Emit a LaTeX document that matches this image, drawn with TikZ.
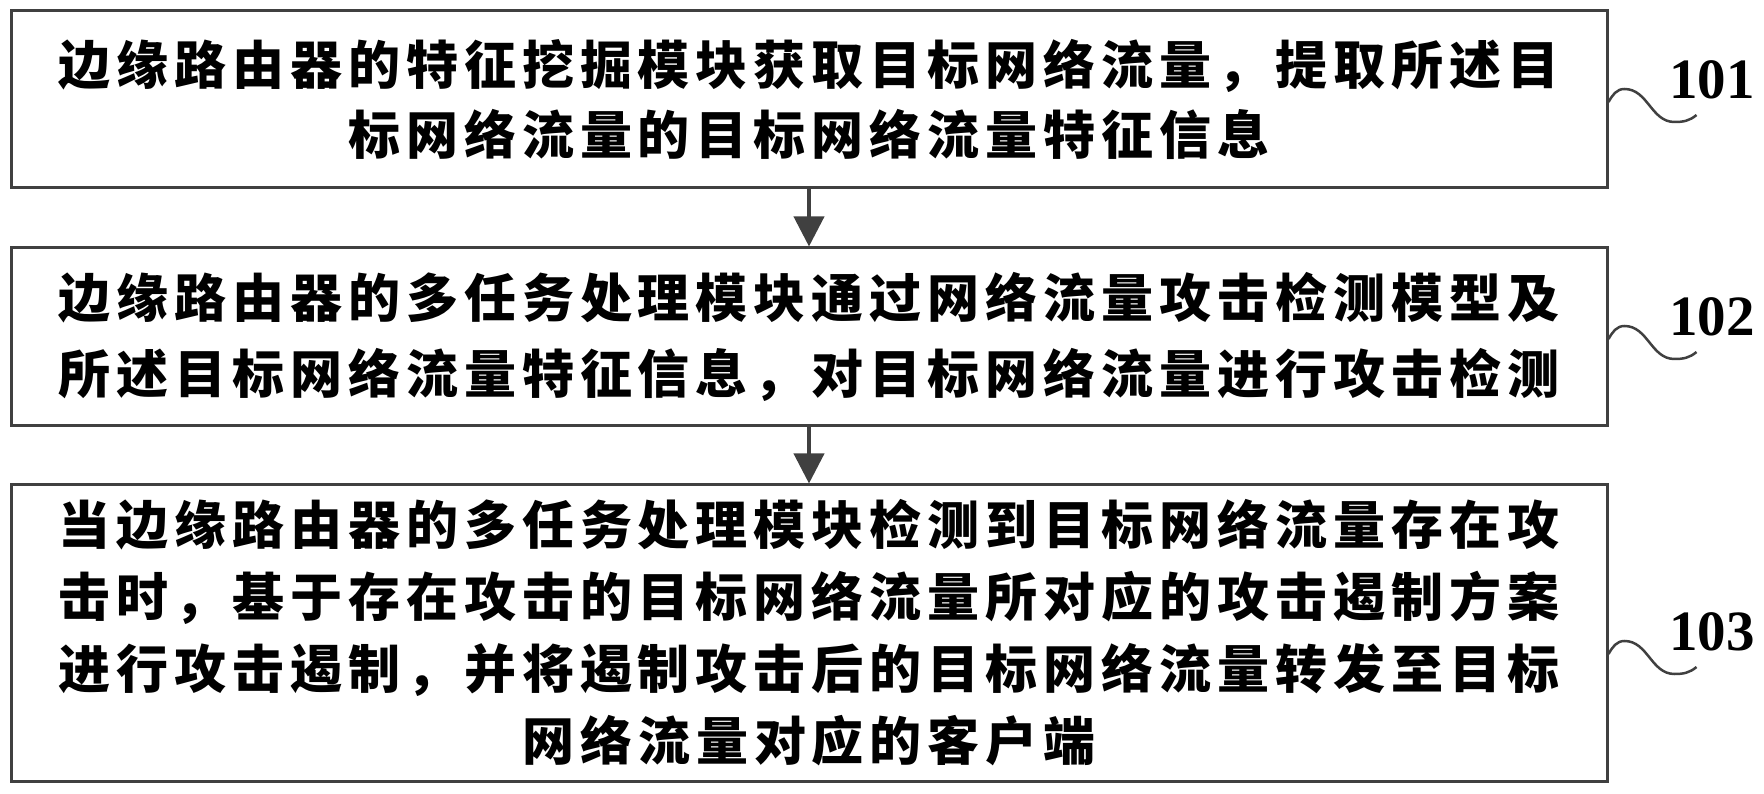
\documentclass[tikz,border=0pt]{standalone}
\usepackage{fontspec}
\newfontfamily\cjk{Noto Sans CJK SC}[LetterSpace=11.5]
\newfontfamily\numfont{Liberation Serif}[UprightFont=* Bold]
\usetikzlibrary{arrows.meta}
\definecolor{linegray}{HTML}{404040}
\begin{document}
\begin{tikzpicture}[x=1pt,y=1pt,
	stepbox/.style={draw=linegray,line width=3pt,minimum width=1596pt,inner sep=0pt,align=center,
		font=\cjk\bfseries\fontsize{52}{72}\selectfont},
	flow/.style={draw=linegray,line width=4pt,-{Triangle[width=30pt,length=30pt]}},
	wave/.style={draw=linegray,line width=2.5pt},
	num/.style={font=\numfont\fontsize{57}{57}\selectfont}]
\useasboundingbox (0,0) rectangle (1764,793);
\node[stepbox,minimum height=177pt] (s1) at (809,693.5)
	{边缘路由器的特征挖掘模块获取目标网络流量，提取所述目\\[-2pt]标网络流量的目标网络流量特征信息};
\node[stepbox,minimum height=178pt] (s2) at (809,456)
	{边缘路由器的多任务处理模块通过网络流量攻击检测模型及\\[4pt]所述目标网络流量特征信息，对目标网络流量进行攻击检测};
\node[stepbox,minimum height=296pt] (s3) at (809,160)
	{当边缘路由器的多任务处理模块检测到目标网络流量存在攻\\击时，基于存在攻击的目标网络流量所对应的攻击遏制方案\\进行攻击遏制，并将遏制攻击后的目标网络流量转发至目标\\网络流量对应的客户端};
\draw[flow] (s1) -- (s2);
\draw[flow] (s2) -- (s3);
% step numbers
\node[num] (n1) at (1712,713) {101};
\node[num] (n2) at (1712,476) {102};
\node[num] (n3) at (1712,161) {103};
\draw[wave] ([yshift=-22pt]n1.center -| s1.east) to[out=60,in=180] ++(16,13)
	to[out=0,in=180] ++(50,-33) to[out=0,in=220] ++(22,7);
\draw[wave] ([yshift=-22pt]n2.center -| s2.east) to[out=60,in=180] ++(16,13)
	to[out=0,in=180] ++(50,-33) to[out=0,in=220] ++(22,7);
\draw[wave] ([yshift=-22pt]n3.center -| s3.east) to[out=60,in=180] ++(16,13)
	to[out=0,in=180] ++(50,-33) to[out=0,in=220] ++(22,7);
\end{tikzpicture}
\end{document}
